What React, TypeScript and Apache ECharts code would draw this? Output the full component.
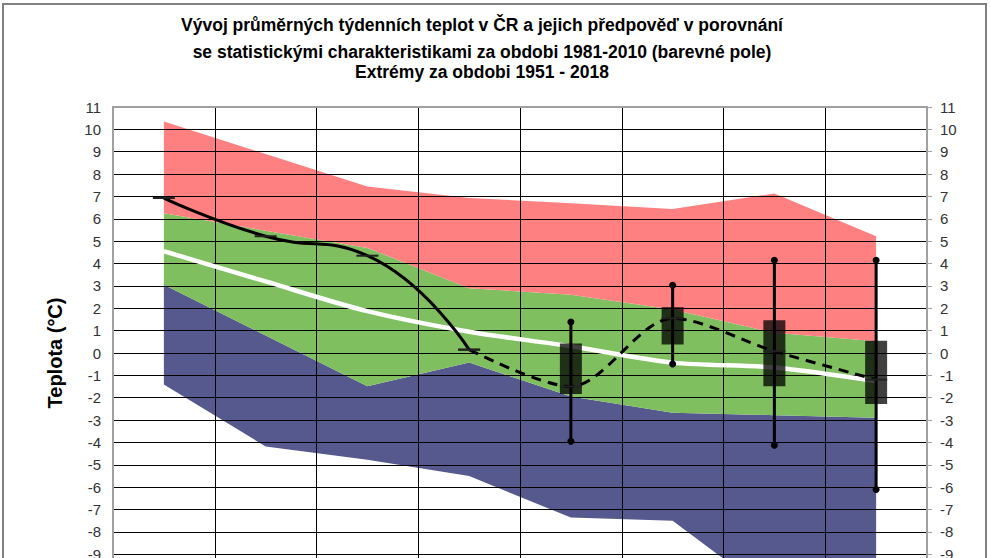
import React, { useEffect, useRef } from "react";
import * as echarts from "echarts";

// týdny (osa x není na obrázku vidět)
const weeks = ["1.", "2.", "3.", "4.", "5.", "6.", "7.", "8."];

// statistické charakteristiky 1981-2010 a extrémy 1951-2018
const extremeMax = [10.35, 8.9, 7.45, 6.93, 6.7, 6.44, 7.13, 5.22];
const upperQuart = [6.25, 5.47, 4.7, 2.9, 2.6, 1.95, 0.9, 0.52];
const lowerQuart = [3.05, 0.78, -1.49, -0.42, -1.95, -2.67, -2.78, -2.9];
const extremeMin = [-1.41, -4.18, -4.77, -5.5, -7.36, -7.5, -10.9, -10.7];
const median = [4.55, 3.2, 1.87, 0.95, 0.3, -0.43, -0.65, -1.26];

// naměřené hodnoty a předpověď
const observed = [6.93, 5.22, 4.35, 0.15, null, null, null, null];
const forecast = [null, null, null, 0.15, -1.5, 1.55, 0.08, -1.19];

// rozptyl předpovědi: [týden, minimum, spodek boxu, vršek boxu, maximum]
const spread: [string, number, number, number, number][] = [
	["5.", -3.95, -1.83, 0.42, 1.39],
	["6.", -0.49, 0.38, 2.05, 3.03],
	["7.", -4.12, -1.49, 1.46, 4.15],
	["8.", -6.1, -2.28, 0.55, 4.15],
];

const titleLines = [
	"Vývoj průměrných týdenních teplot v ČR a jejich předpověď v porovnání",
	"se statistickými charakteristikami za obdobi 1981-2010 (barevné pole)",
	"Extrémy za obdobi 1951 - 2018",
];

const FONT = '"Liberation Sans", Arial, sans-serif';

const App: React.FC = () => {
	const chartRef = useRef<HTMLDivElement>(null);

	useEffect(() => {
		if (!chartRef.current) return;
		const chart = echarts.init(chartRef.current, undefined, { renderer: "svg" });

		const diff = (a: number[], b: number[]) => a.map((v, i) => +(v - b[i]).toFixed(2));

		const bandSeries = (name: string, data: number[], color: string | null) => ({
			name,
			type: "line",
			stack: "pole",
			stackStrategy: "all",
			data,
			symbol: "none",
			lineStyle: { width: 0 },
			areaStyle: color ? { color, opacity: 1 } : { opacity: 0 },
			z: 2,
			silent: true,
		});

		const lineMark = {
			symbol: "rect",
			symbolSize: [22, 2],
			showAllSymbol: true,
			itemStyle: { color: "#222" },
		};

		const option: any = {
			animation: false,
			textStyle: { fontFamily: FONT },
			grid: {
				left: 113,
				right: 64,
				top: 107,
				height: 492,
				show: true,
				borderColor: "#a0a0a0",
				borderWidth: 2,
				z: 7,
			},
			graphic: [
				{
					type: "rect",
					shape: { x: 3, y: 4, width: 983, height: 640 },
					style: { fill: "none", stroke: "#808080", lineWidth: 2 },
					z: 10,
				},
				...titleLines.map((t, i) => ({
					type: "text",
					x: 482,
					y: [25, 52, 72][i],
					style: {
						text: t,
						font: `bold 17.5px ${FONT}`,
						fill: "#000",
						textAlign: "center",
						textVerticalAlign: "middle",
					},
				})),
			],
			xAxis: {
				type: "category",
				data: weeks,
				boundaryGap: true,
				z: 3,
				axisLine: { show: false },
				axisTick: { show: false },
				axisLabel: { show: false },
				splitLine: { show: true, interval: 0, lineStyle: { color: "#000", width: 1 } },
			},
			yAxis: [
				{
					type: "value",
					min: -11,
					max: 11,
					interval: 1,
					z: 3,
					name: "Teplota (°C)",
					nameLocation: "middle",
					nameGap: 48,
					nameTextStyle: { fontSize: 20, fontWeight: "bold", color: "#000", fontFamily: FONT },
					axisLine: { show: true, lineStyle: { color: "#a0a0a0", width: 2 } },
					axisTick: { show: false },
					axisLabel: { margin: 12, fontSize: 15, color: "#333", fontFamily: FONT },
					splitLine: { show: true, lineStyle: { color: "#000", width: 1 } },
				},
				{
					type: "value",
					position: "right",
					min: -11,
					max: 11,
					interval: 1,
					z: 3,
					axisLine: { show: true, lineStyle: { color: "#a0a0a0", width: 2 } },
					axisTick: { show: true, length: 5, lineStyle: { color: "#a0a0a0" } },
					axisLabel: { margin: 13, fontSize: 15, color: "#333", fontFamily: FONT },
					splitLine: { show: false },
				},
			],
			series: [
				bandSeries("min", extremeMin, null),
				bandSeries("pod", diff(lowerQuart, extremeMin), "#55598d"),
				bandSeries("norm", diff(upperQuart, lowerQuart), "#7fbf5f"),
				bandSeries("nad", diff(extremeMax, upperQuart), "#ff8080"),
				{
					name: "median",
					type: "line",
					data: median,
					symbol: "none",
					smooth: 0.3,
					lineStyle: { color: "#fff", width: 4.5 },
					z: 4,
				},
				{
					name: "rozptyl",
					type: "custom",
					data: spread,
					encode: { x: 0, y: [1, 2, 3, 4] },
					z: 5,
					renderItem: (_params: any, api: any) => {
						const x = api.value(0);
						const lo = api.coord([x, api.value(1)]);
						const bl = api.coord([x, api.value(2)]);
						const bh = api.coord([x, api.value(3)]);
						const hi = api.coord([x, api.value(4)]);
						const w = 22;
						return {
							type: "group",
							children: [
								{
									type: "rect",
									shape: { x: lo[0] - w / 2, y: bh[1], width: w, height: bl[1] - bh[1] },
									style: { fill: "rgba(0,0,0,0.75)" },
								},
								{
									type: "line",
									shape: { x1: lo[0], y1: hi[1], x2: lo[0], y2: lo[1] },
									style: { stroke: "#000", lineWidth: 3 },
								},
								{ type: "circle", shape: { cx: lo[0], cy: lo[1], r: 3.5 }, style: { fill: "#000" } },
								{ type: "circle", shape: { cx: hi[0], cy: hi[1], r: 3.5 }, style: { fill: "#000" } },
							],
						};
					},
				},
				{
					name: "skutečnost",
					type: "line",
					data: observed,
					smooth: 0.5,
					...lineMark,
					lineStyle: { color: "#000", width: 3 },
					z: 6,
				},
				{
					name: "předpověď",
					type: "line",
					data: forecast,
					smooth: 0.3,
					...lineMark,
					lineStyle: { color: "#000", width: 3, type: [10, 7] },
					z: 6,
				},
			],
		};

		chart.setOption(option);
		return () => chart.dispose();
	}, []);

	return (
		<div
			style={{ position: "absolute", left: 0, top: 0, width: 991, height: 558, overflow: "hidden", background: "#fff" }}
		>
			<div ref={chartRef} style={{ width: 991, height: 640 }} />
		</div>
	);
};

export default App;
